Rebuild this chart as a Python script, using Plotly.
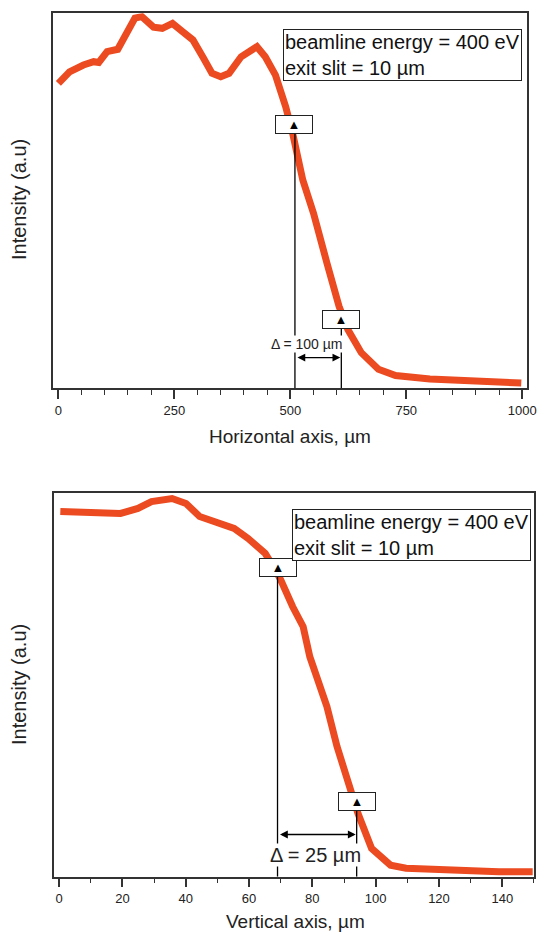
import plotly.graph_objects as go

# ---------------- data ----------------
# Top panel: horizontal scan
h_pos = [0, 24, 54, 76, 87, 105, 128, 165, 180, 205, 224, 246, 268, 290, 313, 331,
         350, 368, 394, 428, 446, 468, 490, 505, 527, 550, 579, 605, 624, 653, 690,
         727, 801, 912, 998]
h_int = [0.813, 0.844, 0.862, 0.871, 0.869, 0.898, 0.904, 0.987, 0.991, 0.963, 0.960,
         0.973, 0.951, 0.929, 0.880, 0.840, 0.831, 0.840, 0.884, 0.911, 0.884, 0.835,
         0.751, 0.680, 0.555, 0.467, 0.334, 0.219, 0.157, 0.095, 0.051, 0.034, 0.025,
         0.020, 0.014]
h_marker_x = [508, 610]
h_marker_y = [0.704, 0.183]
h_lines_x = [510, 610]
h_delta_label = "Δ = 100 µm"

# Bottom panel: vertical scan
v_pos = [0.4, 8.5, 19.4, 24.9, 29.2, 35.7, 40.1, 44.4, 49.9, 55.3, 59.7, 65.1, 68.3,
         70.0, 73.8, 77.1, 79.2, 84.6, 87.8, 91.1, 94.4, 98.7, 104.7, 109.6, 122.6,
         138.9, 149.6]
v_int = [0.951, 0.948, 0.946, 0.959, 0.977, 0.985, 0.972, 0.938, 0.920, 0.907, 0.881,
         0.842, 0.799, 0.773, 0.703, 0.651, 0.573, 0.443, 0.339, 0.252, 0.165, 0.074,
         0.030, 0.022, 0.017, 0.013, 0.013]
v_marker_x = [69, 94]
v_marker_y = [0.804, 0.196]
v_lines_x = [69, 94]
v_delta_label = "Δ = 25 µm"

info_text = "beamline energy = 400 eV<br>exit slit = 10 µm"
x_titles = ["Horizontal axis, µm", "Vertical axis, µm"]
y_title = "Intensity (a.u)"

# ---------------- styling ----------------
FONT = "Liberation Sans, Arial, sans-serif"
LINE_COLOR = "#EC4A20"
AX_COLOR = "#333333"

fig = go.Figure()
fig.add_trace(go.Scatter(x=h_pos, y=h_int, mode="lines", xaxis="x", yaxis="y",
                         line=dict(color=LINE_COLOR, width=7), showlegend=False))
fig.add_trace(go.Scatter(x=v_pos, y=v_int, mode="lines", xaxis="x2", yaxis="y2",
                         line=dict(color=LINE_COLOR, width=7), showlegend=False))

def xax(domain, rng, dtick, minor, anchor):
    return dict(domain=domain, range=rng, anchor=anchor, dtick=dtick, tick0=0,
                ticks="outside", ticklen=9, tickwidth=1.5, tickcolor=AX_COLOR,
                minor=dict(dtick=minor, ticklen=5, tickwidth=1.2, ticks="outside",
                           tickcolor=AX_COLOR, showgrid=False),
                showline=True, linewidth=1.5, linecolor=AX_COLOR, mirror=True,
                showgrid=False, zeroline=False, automargin=False,
                tickfont=dict(size=13, color="#222", family=FONT))

def yax(domain, anchor):
    return dict(domain=domain, range=[0, 1], anchor=anchor, showticklabels=False,
                ticks="", showline=True, linewidth=1.5, linecolor=AX_COLOR, mirror=True,
                showgrid=False, zeroline=False, automargin=False)

fig.update_layout(
    width=540, height=933,
    margin=dict(l=0, r=0, t=0, b=0),
    paper_bgcolor="white", plot_bgcolor="white",
    font=dict(family=FONT, color="#222"),
    xaxis=xax([0.0987, 0.9765], [-11, 1011], 250, 50, "y"),
    yaxis=yax([0.5838, 0.98575], "x"),
    xaxis2=xax([0.1, 0.9894], [-1.6, 150.1], 20, 10, "y2"),
    yaxis2=yax([0.0603, 0.4719], "x2"),
)

shapes = []
annots = []

panels = [
    dict(xr="x", yr="y", mx=h_marker_x, my=h_marker_y, lx=h_lines_x, lab=h_delta_label,
         arrow_y=0.082, lab_x=535, lab_y=0.119, lab_size=14,
         info_x=0.989, info_y=0.957),
    dict(xr="x2", yr="y2", mx=v_marker_x, my=v_marker_y, lx=v_lines_x, lab=v_delta_label,
         arrow_y=0.110, lab_x=81.1, lab_y=0.057, lab_size=20,
         info_x=0.993, info_y=0.957),
]

for p in panels:
    for lx, my in zip(p["lx"], p["my"]):
        shapes.append(dict(type="line", xref=p["xr"], yref=p["yr"], x0=lx, x1=lx,
                           y0=0, y1=my, line=dict(color="black", width=1.3)))
    for mx, my in zip(p["mx"], p["my"]):
        annots.append(dict(xref=p["xr"], yref=p["yr"], x=mx, y=my, text="▲",
                           showarrow=False, font=dict(size=13, color="black"),
                           width=34, height=15, borderpad=1, borderwidth=1,
                           bordercolor="#222", bgcolor="white"))
    # double arrow between the two lines
    annots.append(dict(xref=p["xr"], yref=p["yr"], x=p["lx"][1], y=p["arrow_y"],
                       axref=p["xr"], ayref=p["yr"], ax=p["lx"][0], ay=p["arrow_y"],
                       text="", showarrow=True, arrowhead=2, arrowside="end+start",
                       arrowsize=1.2, arrowwidth=1.3, arrowcolor="black",
                       standoff=1, startstandoff=1))
    annots.append(dict(xref=p["xr"], yref=p["yr"], x=p["lab_x"], y=p["lab_y"],
                       text=p["lab"], showarrow=False, bgcolor="white",
                       font=dict(size=p["lab_size"], color="#222"), borderpad=0))
    dom = p["xr"] + " domain"
    ydom = p["yr"] + " domain"
    annots.append(dict(xref=dom, yref=ydom, x=p["info_x"], y=p["info_y"],
                       xanchor="right", yanchor="top", align="left", text=info_text,
                       showarrow=False, font=dict(size=20, color="#111"),
                       bordercolor="#222", borderwidth=1, borderpad=1, bgcolor="white"))

# axis titles (as text annotations in paper coordinates)
annots.append(dict(xref="paper", yref="paper", x=290 / 540, y=1 - 436 / 933,
                   text=x_titles[0], showarrow=False, font=dict(size=19, color="#222"),
                   xanchor="center", yanchor="middle"))
annots.append(dict(xref="paper", yref="paper", x=295 / 540, y=1 - 921 / 933,
                   text=x_titles[1], showarrow=False, font=dict(size=19, color="#222"),
                   xanchor="center", yanchor="middle"))
annots.append(dict(xref="paper", yref="paper", x=19 / 540, y=1 - 200 / 933,
                   text=y_title, showarrow=False, textangle=-90,
                   xanchor="center", yanchor="middle",
                   font=dict(size=20, color="#222")))
annots.append(dict(xref="paper", yref="paper", x=19 / 540, y=1 - 685 / 933,
                   text=y_title, showarrow=False, textangle=-90,
                   xanchor="center", yanchor="middle",
                   font=dict(size=20, color="#222")))

fig.update_layout(shapes=shapes, annotations=annots)
fig.write_html(
    "out.html",
    config={"displayModeBar": False},
    post_script="document.body.style.margin='0';document.body.style.overflow='hidden';",
)
